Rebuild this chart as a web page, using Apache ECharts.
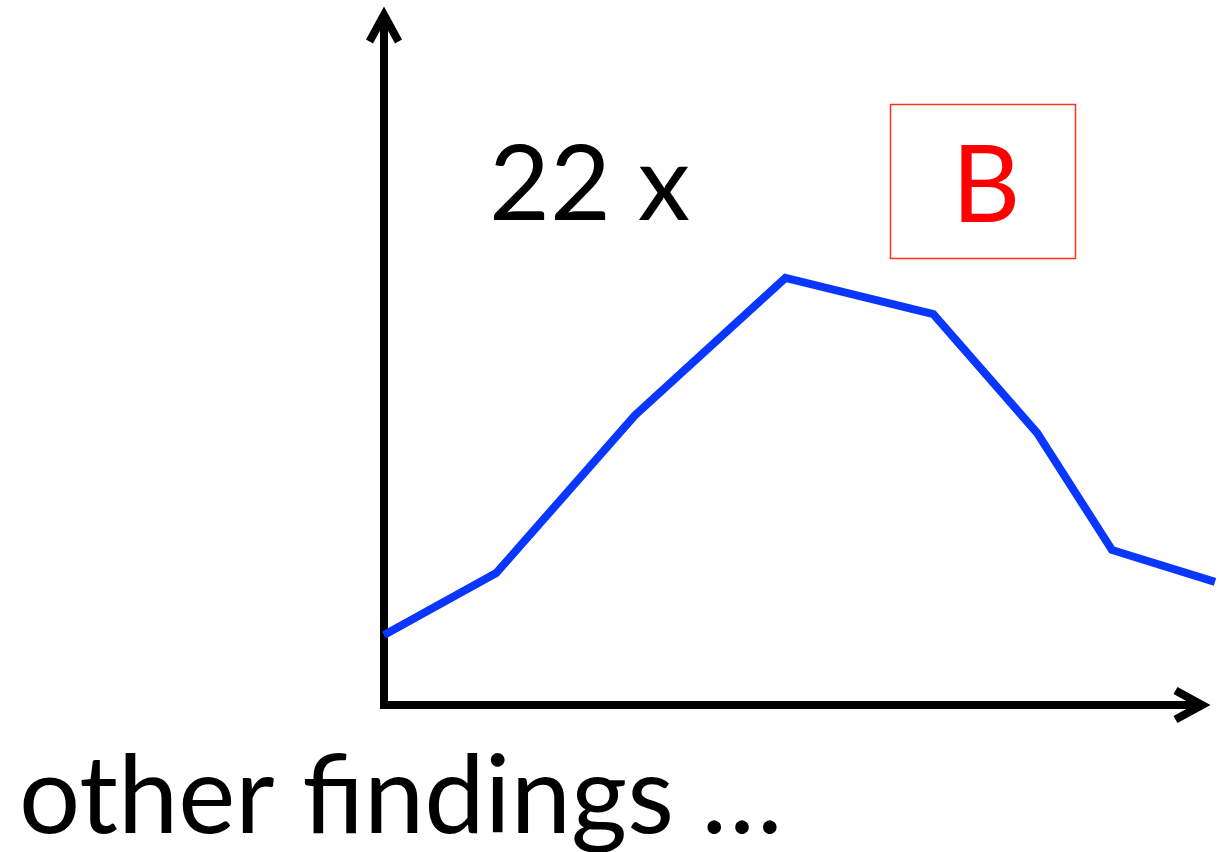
<!DOCTYPE html>
<html>
<head>
<meta charset="utf-8">
<script src="https://cdn.jsdelivr.net/npm/echarts@6/dist/echarts.min.js"></script>
<style>
html,body{margin:0;padding:0;background:#fff;}
#chart{width:1223px;height:852px;}
</style>
</head>
<body>
<div id="chart"></div>
<script>
// Relative positions along the (unlabelled) x axis, 0..100
const xValues = [0, 13.5, 30.2, 48.3, 66.1, 78.6, 87.6, 100];
// Relative heights of the curve, 0..100
const yValues = [10.3, 19.4, 42.6, 62.8, 57.5, 40.0, 22.8, 18.1];
const annotationLeft = '22 x';
const annotationBox = 'B';
const caption = 'other findings …';

const FONT = 'Lato, "Open Sans", "DejaVu Sans", sans-serif';
const chevron = 'path://M20,0 L38,33 L31,37 L20,17 L9,37 L2,33 Z';
const hidden = {axisLine: {show: false}, axisTick: {show: false}, axisLabel: {show: false}, splitLine: {show: false}};

const chart = echarts.init(document.getElementById('chart'), null, {renderer: 'canvas'});
chart.setOption({
  backgroundColor: '#ffffff',
  animation: false,
  grid: [
    // data area: the curve runs to the right edge of the picture
    {left: 384, top: 25, right: 1223 - 1215, bottom: 852 - 705, containLabel: false},
    // axis frame with arrow heads
    {left: 384, top: 25, right: 1223 - 1192, bottom: 852 - 705, containLabel: false}
  ],
  xAxis: [
    Object.assign({type: 'value', min: 0, max: 100, gridIndex: 0}, hidden),
    {
      type: 'value', min: 0, max: 100, gridIndex: 1, z: 1,
      axisLine: {show: true, symbol: ['none', chevron], symbolSize: [36, 37],
        lineStyle: {color: '#000', width: 8, cap: 'square'}},
      axisTick: {show: false}, axisLabel: {show: false}, splitLine: {show: false}
    }
  ],
  yAxis: [
    Object.assign({type: 'value', min: 0, max: 100, gridIndex: 0}, hidden),
    {
      type: 'value', min: 0, max: 100, gridIndex: 1, z: 1,
      axisLine: {show: true, symbol: ['none', chevron], symbolSize: [36, 37],
        lineStyle: {color: '#000', width: 8}},
      axisTick: {show: false}, axisLabel: {show: false}, splitLine: {show: false}
    }
  ],
  series: [{
    type: 'line',
    xAxisIndex: 0, yAxisIndex: 0,
    data: xValues.map((x, i) => [x, yValues[i]]),
    showSymbol: false,
    clip: false,
    lineStyle: {color: '#0a37ff', width: 8, join: 'miter', cap: 'butt'},
    z: 3
  }],
  graphic: [
    {type: 'text', x: 489, y: 186, z: 10,
      style: {text: annotationLeft, font: '105px ' + FONT, fill: '#000', align: 'left', verticalAlign: 'middle'}},
    {type: 'rect', z: 10, shape: {x: 890.5, y: 104.5, width: 185, height: 154},
      style: {fill: 'none', stroke: '#ff3318', lineWidth: 1.5}},
    {type: 'text', x: 986, y: 188, z: 11,
      style: {text: annotationBox, font: '106px ' + FONT, fill: '#ff0000', align: 'center', verticalAlign: 'middle'}},
    {type: 'text', x: 19, y: 798, z: 10,
      style: {text: caption, font: '108px ' + FONT, fill: '#000', align: 'left', verticalAlign: 'middle'}}
  ]
});
</script>
</body>
</html>
